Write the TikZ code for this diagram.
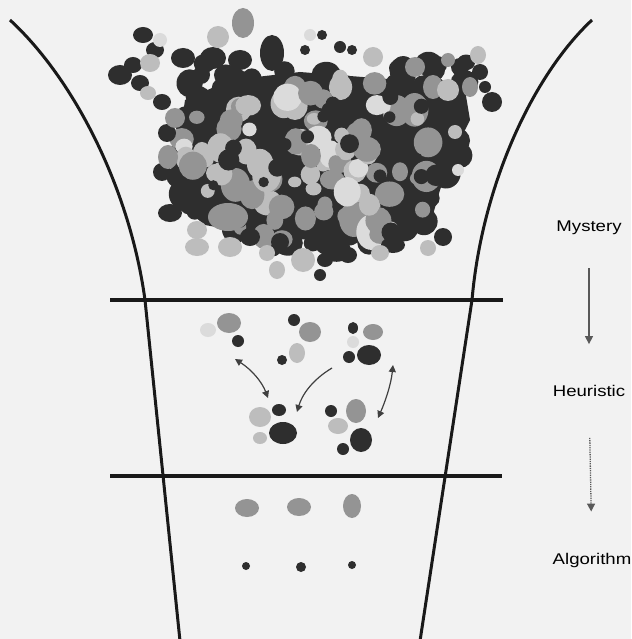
\documentclass[tikz,border=0pt]{standalone}
\usepackage{fontspec}
\setmainfont{Liberation Sans}
\usepackage{graphicx}
\usetikzlibrary{arrows.meta}
\begin{document}
\begin{tikzpicture}[x=1pt,y=-1pt,
  funnel/.style={line width=3pt, black!90},
  divider/.style={line width=3.2pt, black!90},
  dk/.style={fill=black!82}, md/.style={fill=black!42}, lt/.style={fill=black!26}, vl/.style={fill=black!14},
  lbl/.style={font=\fontsize{15.5}{17}\selectfont, inner sep=0pt, text=black},
  flow/.style={line width=1.3pt, black!65, -{Triangle[length=8pt,width=8pt]}},
  link/.style={line width=1.2pt, black!75, {Triangle[length=7pt,width=7pt]}-{Triangle[length=7pt,width=7pt]}},
  onelink/.style={line width=1.2pt, black!75, -{Triangle[length=7pt,width=7pt]}},
]
\useasboundingbox (0,0) rectangle (631,639);
\fill[black!5] (0,0) rectangle (631,639);

% ---------- mystery cluster ----------
\fill[black!82] (185,100) -- (230,80) -- (300,72) -- (400,80) -- (465,90) -- (470,120) -- (455,150) -- (440,190) -- (430,225) -- (400,235) -- (330,242) -- (260,235) -- (205,225) -- (180,205) -- (178,150) -- cycle;
\pgfmathsetseed{4242}
\foreach \i in {1,...,170}{
  \pgfmathsetmacro{\a}{360*rnd}
  \pgfmathsetmacro{\r}{rnd^0.4}
  \pgfmathsetmacro{\x}{316+150*\r*cos(\a)}
  \pgfmathsetmacro{\y}{160+92*\r*sin(\a)}
  \pgfmathsetmacro{\rx}{8+7*rnd}
  \pgfmathsetmacro{\ry}{\rx*(0.8+0.35*rnd)}
  \fill[black!82] (\x,\y) ellipse [x radius=\rx, y radius=\ry];
}
\foreach \i in {1,...,30}{
  \pgfmathsetmacro{\x}{185+290*rnd}
  \pgfmathsetmacro{\y}{62+40*rnd}
  \pgfmathsetmacro{\rx}{8+6*rnd}
  \pgfmathsetmacro{\ry}{\rx*(0.8+0.35*rnd)}
  \fill[black!82] (\x,\y) ellipse [x radius=\rx, y radius=\ry];
}
\foreach \i in {1,...,95}{
  \pgfmathsetmacro{\a}{360*rnd}
  \pgfmathsetmacro{\r}{rnd^0.5}
  \pgfmathsetmacro{\x}{316+140*\r*cos(\a)}
  \pgfmathsetmacro{\y}{160+85*\r*sin(\a)}
  \pgfmathsetmacro{\rx}{6+9*rnd}
  \pgfmathsetmacro{\ry}{\rx*(0.8+0.45*rnd)}
  \pgfmathtruncatemacro{\g}{rnd<0.5 ? 42 : (rnd<0.7 ? 26 : 14)}
  \fill[black!\g] (\x,\y) ellipse [x radius=\rx, y radius=\ry];
}
\foreach \i in {1,...,25}{
  \pgfmathsetmacro{\x}{185+260*rnd}
  \pgfmathsetmacro{\y}{85+150*rnd}
  \pgfmathsetmacro{\rx}{5+6*rnd}
  \fill[black!82] (\x,\y) ellipse [x radius=\rx, y radius=\rx];
}
\foreach \x/\y/\rx/\ry/\s in {
  143/35/10/8/dk, 120/75/12/10/dk, 133/65/9/8/dk, 140/83/9/8/dk, 162/102/9/8/dk,
  155/50/9/8/dk, 183/58/12/10/dk, 213/58/13/11/dk, 240/60/12/10/dk, 272/53/12/18/dk,
  322/35/5/5/dk, 305/50/5/5/dk, 340/47/6/6/dk, 352/50/5/5/dk, 398/68/9/8/dk,
  437/65/10/9/dk, 460/67/9/9/dk, 480/72/8/8/dk, 485/87/6/6/dk, 492/102/10/10/dk,
  450/155/8/9/dk, 443/237/9/9/dk, 393/245/12/8/dk, 348/255/9/8/dk, 325/260/8/7/dk,
  320/275/6/6/dk, 280/242/9/9/dk, 250/237/10/9/dk, 170/213/12/9/dk, 162/172/9/9/dk,
  167/133/9/9/dk,
  243/23/11/15/md, 415/67/10/10/md, 448/60/7/7/md, 433/87/10/12/md, 470/87/8/10/md,
  228/217/20/14/md, 168/157/10/12/md, 175/118/10/10/md,
  218/37/11/11/lt, 150/63/10/9/lt, 148/93/8/7/lt, 373/57/10/10/lt, 478/55/8/9/lt,
  448/90/11/11/lt, 455/132/7/7/lt, 428/248/8/8/lt, 380/253/9/8/lt, 303/260/12/12/lt,
  277/270/8/9/lt, 267/253/8/8/lt, 230/247/12/10/lt, 197/247/12/9/lt, 197/230/10/9/lt,
  160/40/7/7/vl, 310/35/6/6/vl, 458/170/6/6/vl}
  \fill[\s] (\x,\y) ellipse [x radius=\rx, y radius=\ry];

% ---------- heuristic ellipses ----------
\foreach \x/\y/\rx/\ry/\s in {
  208/330/8/7/vl, 229/323/12/10/md, 238/341/6/6/dk, 294/320/6/6/dk, 310/332/11/10/md,
  297/353/8/10/lt, 282/360/5/5/dk, 353/328/5/6/dk, 373/332/10/8/md, 353/342/6/6/vl,
  349/357/6/6/dk, 369/355/12/10/dk,
  260/417/11/10/lt, 279/410/7/6/dk, 283/433/14/11/dk, 260/438/7/6/lt,
  331/411/6/6/dk, 356/411/10/12/md, 338/426/10/8/lt, 361/440/11/12/dk, 343/449/6/6/dk}
  \fill[\s] (\x,\y) ellipse [x radius=\rx, y radius=\ry];

% ---------- algorithm ellipses ----------
\foreach \x/\y/\rx/\ry/\s in {
  247/508/12/9/md, 299/507/12/9/md, 352/506/9/12/md,
  246/566/4/4/dk, 301/567/5/5/dk, 352/565/4/4/dk}
  \fill[\s] (\x,\y) ellipse [x radius=\rx, y radius=\ry];

% ---------- curved arrows ----------
\coordinate (h1a) at (235,359);
\coordinate (h1b) at (268,398);
\coordinate (h2a) at (332,368);
\coordinate (h2b) at (297,412);
\coordinate (h3a) at (393,365);
\coordinate (h3b) at (378,418);
\draw[link] (h1a) .. controls (252,370) and (262,382) .. (h1b);
\draw[onelink] (h2a) .. controls (312,380) and (302,395) .. (h2b);
\draw[link] (h3a) .. controls (391,385) and (385,402) .. (h3b);

% ---------- funnel and dividers ----------
\draw[funnel] (10,20) .. controls (75,80) and (130,190) .. (145,300) -- (180,641);
\draw[funnel] (592,20) .. controls (533,75) and (482,185) .. (472,300) -- (420,641);
\coordinate (d1l) at (110,300); \coordinate (d1r) at (503,300);
\coordinate (d2l) at (110,476); \coordinate (d2r) at (502,476);
\draw[divider] (d1l) -- (d1r);
\draw[divider] (d2l) -- (d2r);

% ---------- labels ----------
\node[lbl] (mystery) at (589,228) {\scalebox{1.2}[1]{Mystery}};
\node[lbl] (heuristic) at (589,391) {\scalebox{1.2}[1]{Heuristic}};
\node[lbl] (algorithm) at (592,560) {\scalebox{1.2}[1]{Algorithm}};
\draw[flow, shorten <=33pt, shorten >=41pt] (mystery.south) -- (heuristic.north);
\draw[flow, densely dotted, shorten <=41pt, shorten >=41pt] (heuristic.south) -- (algorithm.north);
\end{tikzpicture}
\end{document}
